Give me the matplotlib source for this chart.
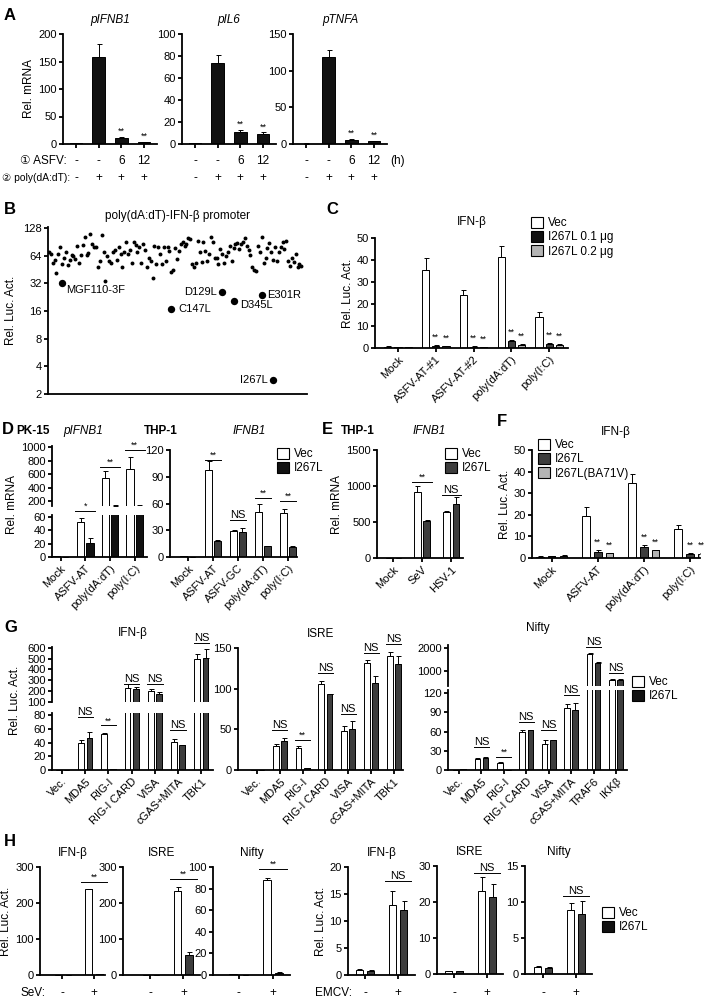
import numpy as np
import matplotlib.pyplot as plt
from matplotlib.patches import Patch
from matplotlib.transforms import blended_transform_factory

plt.rcParams['font.family'] = ['Liberation Sans', 'DejaVu Sans', 'Noto Sans CJK SC']
plt.rcParams['font.size'] = 8

# ---- data ----
# A
A_asfv = ['-', '-', '6', '12']
A_poly = ['-', '+', '+', '+']
A_ifnb = [2, 158, 11, 3]
A_ifnb_err = [0.5, 24, 1.5, 1]
A_il6 = [1, 74, 11, 9]
A_il6_err = [0.3, 7, 1.5, 1.5]
A_tnfa = [0.5, 118, 6, 4]
A_tnfa_err = [0.2, 10, 1.5, 0.5]

# B (screen of ASFV genes, values in gene order)
B_vals = [70, 67, 54, 58, 42, 67, 79, 52, 61, 71, 51, 58, 65, 64, 59, 82, 54, 65, 85, 102,
          65, 68, 111, 86, 79, 79, 48, 56, 108, 70, 34, 64, 56, 54, 70, 75, 58, 79, 67, 48,
          70, 90, 67, 75, 54, 90, 84, 70, 79, 53, 86, 75, 49, 60, 56, 37, 82, 52, 79, 67,
          52, 79, 56, 79, 73, 43, 45, 77, 59, 73, 86, 90, 82, 86, 99, 98, 52, 48, 53, 94,
          70, 55, 90, 73, 56, 67, 102, 90, 61, 60, 52, 76, 67, 54, 64, 70, 81, 56, 77, 86,
          88, 76, 86, 90, 101, 81, 75, 65, 48, 45, 44, 82, 70, 102, 53, 61, 77, 88, 70, 58,
          79, 56, 70, 79, 90, 76, 94, 56, 50, 61, 55, 67, 48, 52, 50]
B_hits = ['MGF110-3F', 'C147L', 'D129L', 'D345L', 'E301R', 'I267L']
B_hit_pos = [7, 65, 92, 98.5, 113, 119]
B_hit_vals = [32, 16.8, 25.7, 20.5, 24.2, 2.86]

# C
C_groups = ['Mock', 'ASFV-AT-#1', 'ASFV-AT-#2', 'poly(dA:dT)', 'poly(I:C)']
C_vec = [0.6, 35.5, 24, 41.5, 14]
C_vec_err = [0.1, 5.5, 2.5, 5, 2.3]
C_01 = [0.4, 1.0, 0.6, 3.2, 2.0]
C_01_err = [0.1, 0.2, 0.1, 0.3, 0.2]
C_02 = [0.3, 0.8, 0.4, 1.5, 1.5]
C_02_err = [0.1, 0.1, 0.1, 0.2, 0.2]

# D
D_pk_groups = ['Mock', 'ASFV-AT', 'poly(dA:dT)', 'poly(I:C)']
D_pk_vec = [1, 52, 550, 680]
D_pk_vec_err = [0.2, 7, 100, 180]
D_pk_i = [0, 21, 130, 120]
D_pk_i_err = [0, 8, 20, 20]
D_pk_sig = ['', '*', '**', '**']
D_pk_sig_y = [0, 69, 710, 955]

D_thp_groups = ['Mock', 'ASFV-AT', 'ASFV-GC', 'poly(dA:dT)', 'poly(I:C)']
D_thp_vec = [0.6, 98, 29, 51, 49]
D_thp_vec_err = [0.1, 10, 1, 9, 5]
D_thp_i = [0.4, 18, 28, 12, 11]
D_thp_i_err = [0.1, 1, 5, 0.7, 1.5]
D_thp_sig = ['', '**', 'NS', '**', '**']
D_thp_sig_y = [0, 109, 41.5, 66, 63]

# E
E_groups = ['Mock', 'SeV', 'HSV-1']
E_vec = [0, 920, 640]
E_vec_err = [0, 80, 15]
E_i = [0, 520, 750]
E_i_err = [0, 10, 100]
E_sig = ['', '**', 'NS']
E_sig_y = [0, 1055, 875]

# F
F_groups = ['Mock', 'ASFV-AT', 'poly(dA:dT)', 'poly(I:C)']
F_vec = [0.6, 19.5, 34.5, 13.5]
F_vec_err = [0.1, 4, 4.5, 2]
F_i = [0.7, 3, 5, 1.8]
F_i_err = [0.1, 0.5, 1, 0.3]
F_ba = [1.0, 2.2, 3.5, 2.0]
F_ba_err = [0.2, 0.3, 0.2, 0.4]

# G
G_groups1 = ['Vec.', 'MDA5', 'RIG-I', 'RIG-I CARD', 'VISA', 'cGAS+MITA', 'TBK1']
G_groups3 = ['Vec.', 'MDA5', 'RIG-I', 'RIG-I CARD', 'VISA', 'cGAS+MITA', 'TRAF6', 'IKKβ']
G_sig1 = ['', 'NS', '**', 'NS', 'NS', 'NS', 'NS']
G_sig3 = ['', 'NS', '**', 'NS', 'NS', 'NS', 'NS', 'NS']
G_ifnb_vec = [0.5, 39, 53, 230, 200, 41, 500]
G_ifnb_vec_err = [0.1, 4, 1, 30, 15, 4, 40]
G_ifnb_i = [0, 47, 1.5, 220, 175, 36, 505]
G_ifnb_i_err = [0, 8, 0.3, 15, 10, 1, 90]
G_ifnb_sig_y = [0, 77, 65, 263, 263, 58, 650]
G_isre_vec = [0.5, 29, 27, 106, 48, 132, 140]
G_isre_vec_err = [0.1, 3, 2, 4, 6, 3, 5]
G_isre_i = [0, 36, 2, 93, 50, 107, 130]
G_isre_i_err = [0, 3, 0.5, 1, 10, 9, 10]
G_isre_sig_y = [0, 49, 37, 119, 69, 144, 155]
G_nifty_vec = [0.5, 17, 11, 60, 40, 97, 1730, 640]
G_nifty_vec_err = [0.1, 2, 1, 2, 6, 6, 80, 30]
G_nifty_i = [1, 19, 0, 62, 46, 93, 1360, 640]
G_nifty_i_err = [0.1, 1, 0, 1, 1, 12, 20, 40]
G_nifty_sig_y = [0, 36, 20, 75, 62, 117, 2045, 910]

# H
H_titles = ['IFN-β', 'ISRE', 'Nifty', 'IFN-β', 'ISRE', 'Nifty']
H_vec = [[0, 238], [0, 233], [0.5, 88], [1.0, 13.0], [0.8, 23], [1.0, 8.9]]
H_vec_err = [[0, 2], [0, 12], [0.1, 2], [0.2, 2.6], [0.1, 4], [0.05, 0.9]]
H_i = [[0, 2], [0, 55], [0, 2], [0.8, 12.0], [0.8, 21.5], [0.85, 8.3]]
H_i_err = [[0, 0.5], [0, 8], [0, 0.5], [0.1, 1.7], [0.1, 3.5], [0.1, 1.9]]
H_sig = ['**', '**', '**', 'NS', 'NS', 'NS']
H_sig_y = [258, 267, 98, 17.4, 28, 10.8]
H_ymax = [300, 300, 100, 20, 30, 15]
H_ystep = [100, 100, 20, 5, 10, 5]
H_virus = ['SeV:', 'EMCV:']
H_treat = ['-', '+']

WHITE, BLACK, DARK, GRAY = '#ffffff', '#111111', '#3d3d3d', '#b4b4b4'

W, H = 714, 999
fig = plt.figure(figsize=(W / 100, H / 100), dpi=100)


def ax_px(x0, y0, x1, y1):
    return fig.add_axes([x0 / W, 1 - y1 / H, (x1 - x0) / W, (y1 - y0) / H])


def style(ax, lw=1.3):
    for s in ['top', 'right']:
        ax.spines[s].set_visible(False)
    for s in ['left', 'bottom']:
        ax.spines[s].set_linewidth(lw)
    ax.tick_params(width=lw, length=3, pad=1.5, labelsize=8)


def bars(ax, vals, errs, colors, width, offsets):
    x = np.arange(len(vals[0]))
    for v, e, c, o in zip(vals, errs, colors, offsets):
        e = np.asarray(e, float)
        ax.bar(x + o, v, width, color=c, edgecolor='black', linewidth=0.7,
               yerr=[np.zeros_like(e), e], capsize=1.8,
               error_kw=dict(elinewidth=0.7, capthick=0.7, ecolor='black'))
    return x


def sig(ax, x, y, txt, half=0.33):
    if not txt:
        return
    ax.plot([x - half, x + half], [y, y], color='black', lw=0.7, clip_on=False)
    fs = 6.5 if '*' in txt else 8
    ax.text(x, y, txt, ha='center', va='bottom', fontsize=fs, clip_on=False)


def stars(ax, xs, tops, pad):
    for x, t in zip(xs, tops):
        ax.text(x, t + pad, '**', ha='center', va='bottom', fontsize=6.5, clip_on=False)


def rot_labels(ax, x, labels):
    ax.set_xticks(x)
    ax.set_xticklabels(labels, rotation=45, ha='right', rotation_mode='anchor', fontsize=8)


def px_text(x, y, s, **kw):
    fig.text(x / W, 1 - y / H, s, **kw)


def legend(x, y, labels, colors, fs=8.5):
    handles = [Patch(facecolor=c, edgecolor='black', linewidth=0.8) for c in colors]
    fig.legend(handles, labels, loc='upper left', bbox_to_anchor=(x / W, 1 - y / H),
               frameon=False, handlelength=1.0, handleheight=1.0, handletextpad=0.4,
               labelspacing=0.15, borderaxespad=0, borderpad=0, fontsize=fs)


# ---- A ----
px_text(4, 15, 'A', fontsize=12, fontweight='bold', va='center')
A_specs = [(63, A_ifnb, A_ifnb_err, 200, 50, 'pIFNB1'),
           (182, A_il6, A_il6_err, 100, 20, 'pIL6'),
           (293, A_tnfa, A_tnfa_err, 150, 50, 'pTNFA')]
for i, (x0, v, e, ymax, step, title) in enumerate(A_specs):
    ax = ax_px(x0, 34, x0 + 94, 144)
    style(ax)
    x = bars(ax, [v], [e], [BLACK], 0.55, [0])
    ax.set_xlim(-0.57, 3.57)
    ax.set_ylim(0, ymax)
    ax.set_yticks(np.arange(0, ymax + 1, step))
    ax.set_xticks(x)
    ax.set_xticklabels([])
    ax.set_title(title, fontstyle='italic', fontsize=8.5, pad=8)
    stars(ax, x[2:], np.array(v[2:]) + np.array(e[2:]), ymax * 0.01)
    tr = blended_transform_factory(ax.transData, fig.transFigure)
    for xi, a, p in zip(x, A_asfv, A_poly):
        ax.text(xi, 1 - 161 / H, a, transform=tr, ha='center', va='center', fontsize=8.5)
        ax.text(xi, 1 - 178 / H, p, transform=tr, ha='center', va='center', fontsize=8.5)
    if i == 0:
        ax.set_ylabel('Rel. mRNA', fontsize=8.5, labelpad=2)
px_text(67, 161, '① ASFV:', ha='right', va='center', fontsize=8.5)
px_text(2, 178, '② poly(dA:dT):', ha='left', va='center', fontsize=7.4)
px_text(390, 161, '(h)', ha='left', va='center', fontsize=8.5)

# ---- B ----
px_text(4, 210, 'B', fontsize=12, fontweight='bold', va='center')
ax = ax_px(48, 227, 307, 394)
style(ax)
ax.scatter(np.arange(len(B_vals)), B_vals, s=8, color='black', linewidths=0)
ax.scatter(B_hit_pos, B_hit_vals, s=28, color='black', linewidths=0)
ax.set_yscale('log', base=2)
ax.set_ylim(2, 132)
ax.set_xlim(-0.5, len(B_vals) + 2)
yt = [2, 4, 8, 16, 32, 64, 128]
ax.set_yticks(yt)
ax.set_yticklabels([str(t) for t in yt])
ax.yaxis.set_minor_locator(plt.NullLocator())
ax.set_xticks([])
ax.set_ylabel('Rel. Luc. Act.', fontsize=8.5, labelpad=4)
ax.set_title('poly(dA:dT)-IFN-β promoter', fontsize=8.5, pad=6)
offs = [(3, -5, 'left'), (5, 0, 'left'), (-4, 0, 'right'), (4, -3, 'left'), (4, 0, 'left'), (-4, 0, 'right')]
for name, xp, yv, (dx, dy, ha) in zip(B_hits, B_hit_pos, B_hit_vals, offs):
    ax.annotate(name, (xp, yv), xytext=(dx, dy), textcoords='offset points',
                ha=ha, va='center', fontsize=8)

# ---- C ----
px_text(326, 210, 'C', fontsize=12, fontweight='bold', va='center')
ax = ax_px(375, 238, 568, 348)
style(ax)
off = [-0.27, 0, 0.27]
x = bars(ax, [C_vec, C_01, C_02], [C_vec_err, C_01_err, C_02_err], [WHITE, DARK, GRAY], 0.19, off)
ax.set_xlim(-0.61, 4.5)
ax.set_ylim(0, 50)
ax.set_yticks(np.arange(0, 51, 10))
rot_labels(ax, x, C_groups)
ax.set_ylabel('Rel. Luc. Act.', fontsize=8.5, labelpad=2)
ax.set_title('IFN-β', fontsize=8.5, pad=9)
for o, v, e in [(off[1], C_01, C_01_err), (off[2], C_02, C_02_err)]:
    stars(ax, x[1:] + o, np.array(v[1:]) + np.array(e[1:]), 1.5)
legend(531, 217, ['Vec', 'I267L 0.1 μg', 'I267L 0.2 μg'], [WHITE, BLACK, GRAY])

# ---- D ----
px_text(2, 429, 'D', fontsize=12, fontweight='bold', va='center')
px_text(16, 431, 'PK-15', fontsize=8.5, fontweight='bold', va='center', ha='left')
px_text(83, 431, 'pIFNB1', fontsize=8.5, fontstyle='italic', va='center', ha='center')
px_text(161, 431, 'THP-1', fontsize=8.5, fontweight='bold', va='center', ha='center')
px_text(249, 431, 'IFNB1', fontsize=8.5, fontstyle='italic', va='center', ha='center')

off2 = [-0.19, 0.19]
axu = ax_px(52, 446, 147, 506)
axl = ax_px(52, 515, 147, 557)
for a in (axu, axl):
    style(a)
    bars(a, [D_pk_vec, D_pk_i], [D_pk_vec_err, D_pk_i_err], [WHITE, BLACK], 0.3, off2)
    a.set_xlim(-0.35, 3.5)
axu.set_ylim(130, 1015)
axu.set_yticks(np.arange(200, 1001, 200))
axu.spines['bottom'].set_visible(False)
axu.set_xticks([])
axl.set_ylim(0, 63)
axl.set_yticks([0, 20, 40, 60])
x = np.arange(len(D_pk_groups))
rot_labels(axl, x, D_pk_groups)
for xi, s, yv in zip(x, D_pk_sig, D_pk_sig_y):
    if s == '*':
        sig(axl, xi, yv, s, half=0.4)
    elif s:
        sig(axu, xi, yv, s, half=0.4)
px_text(12, 505, 'Rel. mRNA', rotation=90, ha='center', va='center', fontsize=8.5)

ax = ax_px(170, 450, 297, 557)
style(ax)
x = bars(ax, [D_thp_vec, D_thp_i], [D_thp_vec_err, D_thp_i_err], [WHITE, DARK], 0.28, [-0.17, 0.17])
ax.set_xlim(-0.72, 4.36)
ax.set_ylim(0, 120)
ax.set_yticks(np.arange(0, 121, 30))
rot_labels(ax, x, D_thp_groups)
for xi, s, yv in zip(x, D_thp_sig, D_thp_sig_y):
    sig(ax, xi, yv, s)
legend(277, 448, ['Vec', 'I267L'], [WHITE, BLACK])

# ---- E ----
px_text(322, 429, 'E', fontsize=12, fontweight='bold', va='center')
px_text(358, 431, 'THP-1', fontsize=8.5, fontweight='bold', va='center', ha='center')
px_text(429, 431, 'IFNB1', fontsize=8.5, fontstyle='italic', va='center', ha='center')
ax = ax_px(377, 450, 463, 558)
style(ax)
x = bars(ax, [E_vec, E_i], [E_vec_err, E_i_err], [WHITE, DARK], 0.22, [-0.16, 0.16])
ax.set_xlim(-0.55, 2.41)
ax.set_ylim(0, 1500)
ax.set_yticks(np.arange(0, 1501, 500))
rot_labels(ax, x, E_groups)
ax.set_ylabel('Rel. mRNA', fontsize=8.5, labelpad=2)
for xi, s, yv in zip(x, E_sig, E_sig_y):
    sig(ax, xi, yv, s)
legend(445, 448, ['Vec', 'I267L'], [WHITE, DARK])

# ---- F ----
px_text(497, 422, 'F', fontsize=12, fontweight='bold', va='center')
ax = ax_px(532, 450, 700, 558)
style(ax)
off = [-0.26, 0, 0.26]
x = bars(ax, [F_vec, F_i, F_ba], [F_vec_err, F_i_err, F_ba_err], [WHITE, DARK, GRAY], 0.16, off)
ax.set_xlim(-0.43, 3.22)
ax.set_ylim(0, 50)
ax.set_yticks(np.arange(0, 51, 10))
rot_labels(ax, x, F_groups)
ax.set_ylabel('Rel. Luc. Act.', fontsize=8.5, labelpad=2)
ax.set_title('IFN-β', fontsize=8.5, pad=11)
for o, v, e in [(off[1], F_i, F_i_err), (off[2], F_ba, F_ba_err)]:
    stars(ax, x[1:] + o, np.array(v[1:]) + np.array(e[1:]), 1.5)
legend(538, 439, ['Vec', 'I267L', 'I267L(BA71V)'], [WHITE, DARK, GRAY])

# ---- G ----
px_text(4, 628, 'G', fontsize=12, fontweight='bold', va='center')
offg = [-0.18, 0.18]
axu = ax_px(52, 647, 213, 702)
axl = ax_px(52, 713, 213, 770)
for a in (axu, axl):
    style(a)
    bars(a, [G_ifnb_vec, G_ifnb_i], [G_ifnb_vec_err, G_ifnb_i_err], [WHITE, DARK], 0.25, offg)
    a.set_xlim(-0.43, 6.5)
axu.set_ylim(96, 610)
axu.set_yticks(np.arange(100, 601, 100))
axu.spines['bottom'].set_visible(False)
axu.set_xticks([])
axu.set_title('IFN-β', fontsize=8.5, pad=8)
axl.set_ylim(0, 83)
axl.set_yticks(np.arange(0, 81, 20))
x = np.arange(len(G_groups1))
rot_labels(axl, x, G_groups1)
for xi, s, yv in zip(x, G_sig1, G_ifnb_sig_y):
    sig(axu if yv > 90 else axl, xi, yv, s)
px_text(15, 700, 'Rel. Luc. Act.', rotation=90, ha='center', va='center', fontsize=8.5)

ax = ax_px(238, 648, 403, 770)
style(ax)
x = bars(ax, [G_isre_vec, G_isre_i], [G_isre_vec_err, G_isre_i_err], [WHITE, DARK], 0.25, offg)
ax.set_xlim(-0.83, 6.4)
ax.set_ylim(0, 150)
ax.set_yticks([0, 50, 100, 150])
rot_labels(ax, x, G_groups1)
ax.set_title('ISRE', fontsize=8.5, pad=8)
for xi, s, yv in zip(x, G_sig1, G_isre_sig_y):
    sig(ax, xi, yv, s)

axu = ax_px(448, 645, 627, 686)
axl = ax_px(448, 690, 627, 770)
for a in (axu, axl):
    style(a)
    bars(a, [G_nifty_vec, G_nifty_i], [G_nifty_vec_err, G_nifty_i_err], [WHITE, DARK], 0.25, offg)
    a.set_xlim(-0.49, 7.49)
axu.set_ylim(364, 2136)
axu.set_yticks([1000, 2000])
axu.spines['bottom'].set_visible(False)
axu.set_xticks([])
axu.set_title('Nifty', fontsize=8.5, pad=10)
axl.set_ylim(0, 124.7)
axl.set_yticks(np.arange(0, 121, 30))
x = np.arange(len(G_groups3))
rot_labels(axl, x, G_groups3)
for xi, s, yv in zip(x, G_sig3, G_nifty_sig_y):
    sig(axu if yv > 300 else axl, xi, yv, s)
legend(632, 676, ['Vec', 'I267L'], [WHITE, BLACK])

# ---- H ----
px_text(4, 842, 'H', fontsize=12, fontweight='bold', va='center')
H_axes = [(40, 867, 105, -0.69, 1.34), (123, 867, 200, -0.82, 1.5), (213, 867, 290, -0.76, 1.5),
          (348, 867, 415, -0.52, 1.52), (437, 866, 503, -0.52, 1.48), (525, 866, 592, -0.55, 1.48)]
for k, (x0, y0, x1, xl0, xl1) in enumerate(H_axes):
    ax = ax_px(x0, y0, x1, y0 + 108)
    style(ax)
    x = bars(ax, [H_vec[k], H_i[k]], [H_vec_err[k], H_i_err[k]], [WHITE, DARK], 0.22, [-0.17, 0.17])
    ax.set_xlim(xl0, xl1)
    ax.set_ylim(0, H_ymax[k])
    ax.set_yticks(np.arange(0, H_ymax[k] + 1, H_ystep[k]))
    ax.set_xticks(x)
    ax.set_xticklabels([])
    ax.set_title(H_titles[k], fontsize=8.5, pad=8)
    sig(ax, x[1], H_sig_y[k], H_sig[k], half=0.4)
    tr = blended_transform_factory(ax.transData, fig.transFigure)
    for xi, t in zip(x, H_treat):
        ax.text(xi, 1 - 993 / H, t, transform=tr, ha='center', va='center', fontsize=8.5)
    if k in (0, 3):
        ax.set_ylabel('Rel. Luc. Act.', fontsize=8.5, labelpad=2)
px_text(46, 993, H_virus[0], ha='right', va='center', fontsize=8.5)
px_text(352, 993, H_virus[1], ha='right', va='center', fontsize=8.5)
legend(602, 907, ['Vec', 'I267L'], [WHITE, BLACK])

fig.savefig('out.png', dpi=100)
